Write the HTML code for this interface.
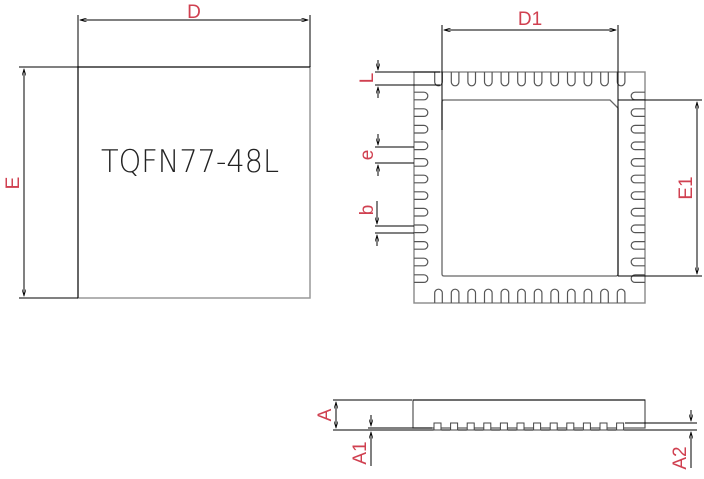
<!DOCTYPE html>
<html><head><meta charset="utf-8"><style>
html,body{margin:0;padding:0;background:#fff;}
svg{display:block;}
text{font-family:"Liberation Sans",sans-serif;}
</style></head><body>
<svg width="704" height="479" viewBox="0 0 704 479" xmlns="http://www.w3.org/2000/svg">
<defs>
<marker id="ar" viewBox="0 0 10 6" refX="10" refY="3" markerWidth="8" markerHeight="4" orient="auto-start-reverse"><path d="M0,0 L10,3 L0,6" fill="none" stroke="#000" stroke-width="1"/></marker>
<path id="pt" d="M-3.8,72 V82 A3.8,3.8 0 0 0 3.8,82 V72" fill="none" stroke="#555" stroke-width="1.2"/>
<path id="pb" d="M-3.8,303 V293 A3.8,3.8 0 0 1 3.8,293 V303" fill="none" stroke="#555" stroke-width="1.2"/>
<path id="pl" d="M414,-3.8 H424 A3.8,3.8 0 0 1 424,3.8 H414" fill="none" stroke="#555" stroke-width="1.2"/>
<path id="pr" d="M645,-3.8 H635 A3.8,3.8 0 0 0 635,3.8 H645" fill="none" stroke="#555" stroke-width="1.2"/>
<rect id="sq" x="-3.5" y="423" width="7" height="7" fill="#fff" stroke="#444" stroke-width="1"/>
</defs>

<!-- Left package -->
<rect x="78" y="67" width="232" height="231" fill="none" stroke="#999" stroke-width="1.5"/>
<line x1="78" y1="67" x2="310" y2="67" stroke="#000" stroke-width="1"/>
<line x1="78" y1="67" x2="78" y2="298" stroke="#000" stroke-width="1"/>
<line x1="78" y1="15" x2="78" y2="67" stroke="#000"/>
<line x1="310" y1="15" x2="310" y2="67" stroke="#000"/>
<line x1="80" y1="20" x2="308" y2="20" stroke="#000" marker-start="url(#ar)" marker-end="url(#ar)"/>
<text x="194" y="18" font-size="19" fill="#d04050" text-anchor="middle">D</text>
<line x1="19" y1="67" x2="78" y2="67" stroke="#000"/>
<line x1="19" y1="298" x2="78" y2="298" stroke="#000"/>
<line x1="24" y1="69" x2="24" y2="296" stroke="#000" marker-start="url(#ar)" marker-end="url(#ar)"/>
<text transform="translate(19,183) rotate(-90)" font-size="19" fill="#d04050" text-anchor="middle">E</text>
<text x="101" y="172" font-size="31" fill="#222" textLength="178" lengthAdjust="spacingAndGlyphs" style="font-family:'DejaVu Sans','Liberation Sans',sans-serif;font-weight:200">TQFN77-48L</text>

<!-- Right package top view -->
<rect x="414" y="72" width="231" height="231" fill="none" stroke="#888" stroke-width="1.4"/>
<path d="M444,100 H610 L618,108 V274 Q618,276 616,276 H444 Q442,276 442,274 V102 Q442,100 444,100 Z" fill="none" stroke="#666" stroke-width="1.3"/>
<g>
<use href="#pt" x="438.5"/><use href="#pt" x="455.1"/><use href="#pt" x="471.7"/><use href="#pt" x="488.3"/><use href="#pt" x="504.9"/><use href="#pt" x="521.5"/><use href="#pt" x="538.1"/><use href="#pt" x="554.7"/><use href="#pt" x="571.3"/><use href="#pt" x="587.9"/><use href="#pt" x="604.5"/><use href="#pt" x="621.1"/>
<use href="#pb" x="438.5"/><use href="#pb" x="455.1"/><use href="#pb" x="471.7"/><use href="#pb" x="488.3"/><use href="#pb" x="504.9"/><use href="#pb" x="521.5"/><use href="#pb" x="538.1"/><use href="#pb" x="554.7"/><use href="#pb" x="571.3"/><use href="#pb" x="587.9"/><use href="#pb" x="604.5"/><use href="#pb" x="621.1"/>
<use href="#pl" y="96"/><use href="#pl" y="112.6"/><use href="#pl" y="129.2"/><use href="#pl" y="145.8"/><use href="#pl" y="162.4"/><use href="#pl" y="179"/><use href="#pl" y="195.6"/><use href="#pl" y="212.2"/><use href="#pl" y="228.8"/><use href="#pl" y="245.4"/><use href="#pl" y="262"/><use href="#pl" y="278.6"/>
<use href="#pr" y="96"/><use href="#pr" y="112.6"/><use href="#pr" y="129.2"/><use href="#pr" y="145.8"/><use href="#pr" y="162.4"/><use href="#pr" y="179"/><use href="#pr" y="195.6"/><use href="#pr" y="212.2"/><use href="#pr" y="228.8"/><use href="#pr" y="245.4"/><use href="#pr" y="262"/><use href="#pr" y="278.6"/>
</g>
<!-- D1 -->
<line x1="442" y1="25" x2="442" y2="130" stroke="#000"/>
<line x1="618" y1="25" x2="618" y2="276" stroke="#000"/>
<line x1="444" y1="30" x2="616" y2="30" stroke="#000" marker-start="url(#ar)" marker-end="url(#ar)"/>
<text x="530" y="25" font-size="19" fill="#d04050" text-anchor="middle">D1</text>
<!-- E1 -->
<line x1="618" y1="100" x2="702" y2="100" stroke="#000"/>
<line x1="618" y1="276" x2="702" y2="276" stroke="#000"/>
<line x1="697" y1="102" x2="697" y2="274" stroke="#000" marker-start="url(#ar)" marker-end="url(#ar)"/>
<text transform="translate(692,188) rotate(-90)" font-size="19" fill="#d04050" text-anchor="middle">E1</text>
<!-- L -->
<line x1="375" y1="72" x2="440" y2="72" stroke="#000"/>
<line x1="375" y1="85" x2="440" y2="85" stroke="#000"/>
<line x1="378" y1="60" x2="378" y2="70" stroke="#000" marker-end="url(#ar)"/>
<line x1="378" y1="98" x2="378" y2="87" stroke="#000" marker-end="url(#ar)"/>
<text transform="translate(373,78) rotate(-90)" font-size="19" fill="#d04050" text-anchor="middle">L</text>
<!-- e -->
<line x1="375" y1="147" x2="414" y2="147" stroke="#000"/>
<line x1="375" y1="163" x2="414" y2="163" stroke="#000"/>
<line x1="378" y1="134" x2="378" y2="145" stroke="#000" marker-end="url(#ar)"/>
<line x1="378" y1="176" x2="378" y2="165" stroke="#000" marker-end="url(#ar)"/>
<text transform="translate(373,155) rotate(-90)" font-size="19" fill="#d04050" text-anchor="middle">e</text>
<!-- b -->
<line x1="375" y1="226" x2="414" y2="226" stroke="#000"/>
<line x1="375" y1="233" x2="414" y2="233" stroke="#000"/>
<line x1="377" y1="201" x2="377" y2="224" stroke="#000" marker-end="url(#ar)"/>
<line x1="377" y1="246" x2="377" y2="235" stroke="#000" marker-end="url(#ar)"/>
<text transform="translate(373,210) rotate(-90)" font-size="19" fill="#d04050" text-anchor="middle">b</text>

<!-- Side view -->
<line x1="333" y1="400" x2="412" y2="400" stroke="#000"/>
<rect x="413" y="400" width="232" height="28" fill="none" stroke="#555" stroke-width="1.2"/>
<line x1="413" y1="400" x2="645" y2="400" stroke="#000"/>
<line x1="333" y1="430" x2="430" y2="430" stroke="#000"/>
<line x1="368" y1="428" x2="432" y2="428" stroke="#000"/>
<line x1="430" y1="430" x2="625" y2="430" stroke="#000"/>
<use href="#sq" x="437.5"/><use href="#sq" x="454.1"/><use href="#sq" x="470.7"/><use href="#sq" x="487.3"/><use href="#sq" x="503.9"/><use href="#sq" x="520.5"/><use href="#sq" x="537.1"/><use href="#sq" x="553.7"/><use href="#sq" x="570.3"/><use href="#sq" x="586.9"/><use href="#sq" x="603.5"/><use href="#sq" x="620.1"/>
<line x1="625" y1="423" x2="697" y2="423" stroke="#000"/>
<line x1="625" y1="430" x2="697" y2="430" stroke="#000"/>
<line x1="336" y1="402" x2="336" y2="428" stroke="#000" marker-start="url(#ar)" marker-end="url(#ar)"/>
<text transform="translate(331,415) rotate(-90)" font-size="19" fill="#d04050" text-anchor="middle">A</text>
<line x1="371" y1="415" x2="371" y2="426" stroke="#000" marker-end="url(#ar)"/>
<line x1="371" y1="466" x2="371" y2="432" stroke="#000" marker-end="url(#ar)"/>
<text transform="translate(366,453) rotate(-90)" font-size="19" fill="#d04050" text-anchor="middle">A1</text>
<line x1="691" y1="410" x2="691" y2="421" stroke="#000" marker-end="url(#ar)"/>
<line x1="691" y1="468" x2="691" y2="432" stroke="#000" marker-end="url(#ar)"/>
<text transform="translate(686,458) rotate(-90)" font-size="19" fill="#d04050" text-anchor="middle">A2</text>
</svg>
</body></html>
